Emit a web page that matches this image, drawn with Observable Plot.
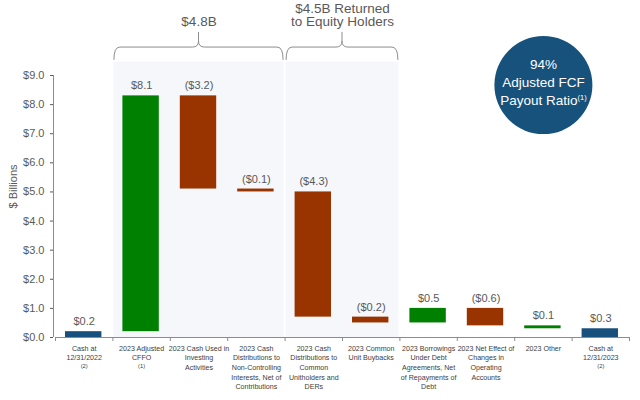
<!DOCTYPE html>
<html><head><meta charset="utf-8">
<script src="https://cdn.jsdelivr.net/npm/d3@7"></script>
<script src="https://cdn.jsdelivr.net/npm/@observablehq/plot@0.6"></script>
<style>body{margin:0;background:#fff}</style>
</head><body><div id="chart"></div>
<script>
const categories = ["Cash at\n12/31/2022", "2023 Adjusted\nCFFO", "2023 Cash Used in\nInvesting\nActivities", "2023 Cash\nDistributions to\nNon-Controlling\nInterests, Net of\nContributions", "2023 Cash\nDistributions to\nCommon\nUnitholders and\nDERs", "2023 Common\nUnit Buybacks", "2023 Borrowings\nUnder Debt\nAgreements, Net\nof Repayments of\nDebt", "2023 Net Effect of\nChanges in\nOperating\nAccounts", "2023 Other", "Cash at\n12/31/2023"];
const footnotes = ["(2)", "(1)", "", "", "", "", "", "", "", "(2)"];
const valueLabels = ["$0.2", "$8.1", "($3.2)", "($0.1)", "($4.3)", "($0.2)", "$0.5", "($0.6)", "$0.1", "$0.3"];
const barLow  = [0,   0.2, 5.1, 5.0, 0.7, 0.5, 0.5, 0.4, 0.3, 0];
const barHigh = [0.2, 8.3, 8.3, 5.1, 5.0, 0.7, 1.0, 1.0, 0.4, 0.3];
const barKind = ["total", "increase", "decrease", "decrease", "decrease", "decrease", "increase", "decrease", "increase", "total"];
const groupLabels = ["$4.8B", "$4.5B Returned\nto Equity Holders"];
const groupFrom = [1, 4];
const groupTo = [4, 6];
const yTicks = [0, 1, 2, 3, 4, 5, 6, 7, 8, 9];
const badgeText = "94%\nAdjusted FCF\nPayout Ratio";
const badgeNote = "(1)";

const bars = categories.map((c, i) => ({i, cat: c, low: barLow[i], high: barHigh[i], kind: barKind[i], label: valueLabels[i], note: footnotes[i]}));
const groups = groupLabels.map((l, i) => ({label: l, from: groupFrom[i], to: groupTo[i]}));
const badge = [{x: 8.5, y: 8.67, text: badgeText}];
const brace = {base: 9.52, bar: 9.96, tip: 10.48, shade: 9.46};

const grey = "#595959";
const plot = Plot.plot({
  width: 640, height: 400,
  marginLeft: 55, marginRight: 11, marginTop: 75, marginBottom: 63,
  style: {fontFamily: "'Liberation Sans', Arial, sans-serif", background: "#fff", overflow: "visible"},
  x: {type: "linear", domain: [0, 10]},
  y: {domain: [0, 9]},
  color: {domain: ["total", "increase", "decrease"], range: ["#17507d", "#008000", "#993300"]},
  marks: [
    Plot.rect(groups, {x1: "from", x2: "to", y1: 0, y2: brace.shade, fill: "#f5f7fa", insetLeft: 1, insetRight: 1}),
    Plot.rect(bars, {x1: "i", x2: d => d.i + 1, y1: "low", y2: "high", fill: "kind", insetLeft: 10, insetRight: 11}),
    Plot.text(bars, {x: d => d.i + 0.5, y: "high", dy: -10, text: "label", fontSize: 11, fill: grey}),
    Plot.text(bars, {x: d => d.i + 0.5, y: 0, text: "cat", lineAnchor: "top", dy: 6.5, fontSize: 7.1, lineHeight: 1.35, fill: "#404040"}),
    Plot.text(bars, {x: d => d.i + 0.5, y: 0, text: "note", lineAnchor: "top", dy: 26.5, fontSize: 5.8, fill: "#404040"}),
    Plot.ruleX([0], {y1: 0, y2: 9, stroke: "#8c8c8c", dx: -2}),
    Plot.ruleY([0], {x1: 0, x2: 10, stroke: "#8c8c8c"}),
    Plot.axisY({ticks: yTicks, tickFormat: d => `$${d.toFixed(1)}`, tickSize: 3, tickPadding: 6, dx: -2, fontSize: 11, color: grey, label: null}),
    Plot.axisX({ticks: d3.range(11), tickFormat: () => "", tickSize: 4, color: "#8c8c8c", label: null}),
    Plot.text(["$ Billions"], {frameAnchor: "left", dx: -42, dy: 2, rotate: -90, fontSize: 11, fill: grey}),
    Plot.text(groups, {x: d => (d.from + d.to) / 2, y: brace.tip, text: "label", lineAnchor: "bottom", dy: -6, fontSize: 13.5, lineHeight: 1.0, fill: grey}),
    Plot.dot(badge, {x: "x", y: "y", r: 49, fill: "#17527d"}),
    Plot.text(badge, {x: "x", y: "y", text: "text", dy: -4, dx: 0, fontSize: 13.5, lineHeight: 1.32, fill: "#fff", className: "badge-text"})
  ]
});

const sx = plot.scale("x"), sy = plot.scale("y");
const yb = sy.apply(brace.base), ym = sy.apply(brace.bar), yt = sy.apply(brace.tip);
const svg = d3.select(plot);
groups.forEach(g => {
  const xa = sx.apply(g.from) + 1.5, xb = sx.apply(g.to) - 1.5, xm = (xa + xb) / 2, r = 6;
  const p = `M${xa},${yb} Q${xa},${ym} ${xa + r},${ym} L${xm - r},${ym} Q${xm},${ym} ${xm},${ym - r} L${xm},${yt} M${xm},${ym - r} Q${xm},${ym} ${xm + r},${ym} L${xb - r},${ym} Q${xb},${ym} ${xb},${yb}`;
  svg.append("path").attr("d", p).attr("fill", "none").attr("stroke", "#8c8c8c").attr("stroke-width", 1);
});
// superscript footnote marker on the badge's last line
const lastLine = svg.select(".badge-text text tspan:last-child");
if (!lastLine.empty()) {
  lastLine.append("tspan").attr("font-size", 7.5).attr("dy", "-0.55em").text(badgeNote);
}
document.getElementById("chart").append(plot);
</script></body></html>
